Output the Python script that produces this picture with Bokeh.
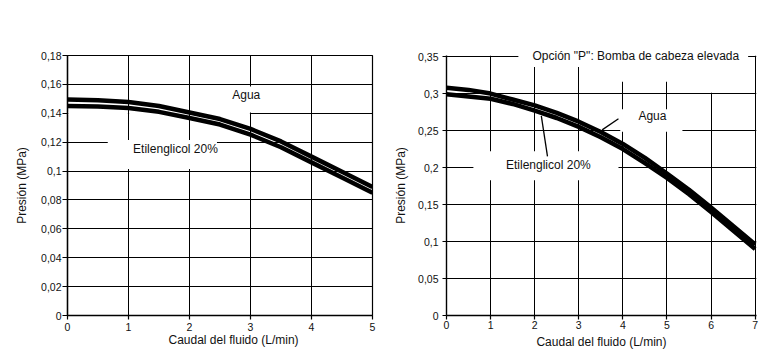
from bokeh.plotting import figure
from bokeh.layouts import row
from bokeh.models import Range1d, FixedTicker, Label, Title
from bokeh.embed import file_html
from bokeh.resources import INLINE

FONT = "Liberation Sans"

# ---------------- Left chart data ----------------
flow_left = [0, 0.5, 1, 1.5, 2, 2.5, 3, 3.5, 4, 4.5, 5]
agua_left = [0.1495, 0.1490, 0.1478, 0.1450, 0.1405, 0.1360, 0.1292, 0.1205, 0.1100, 0.0995, 0.0890]
etil_left = [0.1450, 0.1447, 0.1437, 0.1410, 0.1367, 0.1322, 0.1252, 0.1165, 0.1060, 0.0955, 0.0850]
xticks_left = [0, 1, 2, 3, 4, 5]
yticks_left = [0, 0.02, 0.04, 0.06, 0.08, 0.1, 0.12, 0.14, 0.16, 0.18]
ylabels_left = ["0", "0,02", "0,04", "0,06", "0,08", "0,1", "0,12", "0,14", "0,16", "0,18"]

# ---------------- Right chart data ----------------
flow_right = [0, 0.5, 1, 1.5, 2, 2.5, 3, 3.5, 4, 4.5, 5, 5.5, 6, 6.5, 7]
agua_right = [0.308, 0.305, 0.300, 0.292, 0.284, 0.274, 0.262, 0.248, 0.232, 0.213, 0.192, 0.170, 0.146, 0.121, 0.096]
etil_right = [0.299, 0.296, 0.293, 0.286, 0.277, 0.267, 0.255, 0.241, 0.225, 0.206, 0.186, 0.164, 0.140, 0.115, 0.090]
xticks_right = [0, 1, 2, 3, 4, 5, 6, 7]
yticks_right = [0, 0.05, 0.1, 0.15, 0.2, 0.25, 0.3, 0.35]
ylabels_right = ["0", "0,05", "0,1", "0,15", "0,2", "0,25", "0,3", "0,35"]

label_agua = "Agua"
label_etil = "Etilenglicol 20%"
title_right = 'Opción "P": Bomba de cabeza elevada'
xlabel = "Caudal del fluido (L/min)"
ylabel = "Presión (MPa)"

TXT = "12px"
TICK = "10.5px"
INK = "#111111"


def style(p, xticks, yticks, ylabels, xt_out, xt_stand, yt_out, yt_stand, ylab_stand):
    p.background_fill_color = "white"
    p.border_fill_color = "white"
    xt = FixedTicker(ticks=xticks)
    yt = FixedTicker(ticks=yticks)
    p.xaxis.ticker = xt
    p.yaxis.ticker = yt
    p.xgrid.ticker = xt
    p.ygrid.ticker = yt
    p.yaxis.major_label_overrides = {t: s for t, s in zip(yticks, ylabels)}
    p.grid.grid_line_color = "black"
    p.grid.grid_line_width = 1
    p.grid.grid_line_alpha = 1
    for ax in p.axis:
        ax.axis_line_color = "black"
        ax.axis_line_width = 1.4
        ax.major_tick_line_color = "black"
        ax.major_tick_line_width = 1.2
        ax.major_tick_in = 0
        ax.minor_tick_line_color = None
        ax.major_label_text_font = FONT
        ax.major_label_text_font_size = TICK
        ax.major_label_text_color = INK
        ax.axis_label_text_font = FONT
        ax.axis_label_text_font_size = TXT
        ax.axis_label_text_font_style = "normal"
        ax.axis_label_text_color = INK
    p.xaxis.major_tick_out = xt_out
    p.xaxis.major_label_standoff = xt_stand
    p.yaxis.major_tick_out = yt_out
    p.yaxis.major_label_standoff = yt_stand
    p.yaxis.axis_label = ylabel
    p.yaxis.axis_label_standoff = ylab_stand


def text(p, x, y, s):
    p.add_layout(Label(x=x, y=y, text=s, text_align="center", text_baseline="middle",
                       text_font=FONT, text_font_size=TXT, text_color=INK))


def white_box(p, l, r, b, t):
    p.quad(left=l, right=r, bottom=b, top=t, fill_color="white", line_color=None)


# ---------------- Left figure ----------------
p1 = figure(width=390, height=356, x_range=Range1d(0, 5), y_range=Range1d(0, 0.18),
            output_backend="svg", toolbar_location=None,
            min_border_left=67, min_border_right=18, min_border_top=55, min_border_bottom=41)
style(p1, xticks_left, yticks_left, ylabels_left, 4, 3, 5, 1, 9)
p1.outline_line_color = "black"
p1.outline_line_width = 1.2
p1.add_layout(Title(text=xlabel, align="left", offset=101, standoff=-2, vertical_align="top",
                    text_font=FONT, text_font_size=TXT, text_font_style="normal",
                    text_color=INK), "below")

# label backgrounds (hide grid behind the labels)
white_box(p1, 2.43, 3.57, 0.1405, 0.1585)
white_box(p1, 0.66, 2.45, 0.1015, 0.1215)
# 0.14 grid line is hidden left of x=3 in the original
white_box(p1, 0.012, 0.99, 0.1388, 0.1412)
white_box(p1, 1.01, 1.99, 0.1388, 0.1412)
white_box(p1, 2.01, 2.99, 0.1388, 0.1412)
p1.line(flow_left, agua_left, line_color="black", line_width=4.5, line_join="round")
p1.line(flow_left, etil_left, line_color="black", line_width=4.5, line_join="round")
text(p1, 2.93, 0.153, label_agua)
text(p1, 1.77, 0.1153, label_etil)

# ---------------- Right figure ----------------
p2 = figure(width=379, height=356, x_range=Range1d(0, 7.03), y_range=Range1d(0, 0.3515),
            output_backend="svg", toolbar_location=None,
            min_border_left=56, min_border_right=13, min_border_top=52, min_border_bottom=31)
style(p2, xticks_right, yticks_right, ylabels_right, 4, 1, 4, 4, 7)
p2.outline_line_color = None
p2.xaxis.axis_label = xlabel
p2.xaxis.axis_label_standoff = 3
p2.add_layout(Title(text=title_right, align="left", offset=86, standoff=-14, vertical_align="bottom",
                    text_font=FONT, text_font_size=TXT, text_font_style="normal",
                    text_color=INK), "above")

white_box(p2, 1.63, 6.84, 0.336, 0.3515)
white_box(p2, 3.55, 6.84, 0.316, 0.3375)
white_box(p2, 5.55, 6.84, 0.3013, 0.3185)
white_box(p2, 3.94, 5.35, 0.2485, 0.279)
white_box(p2, 0.61, 3.90, 0.183, 0.222)
p2.line(flow_right, agua_right, line_color="black", line_width=4.5, line_join="round")
p2.line(flow_right, etil_right, line_color="black", line_width=4.5, line_join="round")
p2.line([2.29, 2.15], [0.215, 0.270], line_color="black", line_width=1.3)
p2.line([3.90, 3.53], [0.266, 0.251], line_color="black", line_width=1.3)
text(p2, 4.67, 0.270, label_agua)
text(p2, 2.31, 0.2033, label_etil)

layout = row(p1, p2)
open("out.html", "w").write(file_html(layout, INLINE))
